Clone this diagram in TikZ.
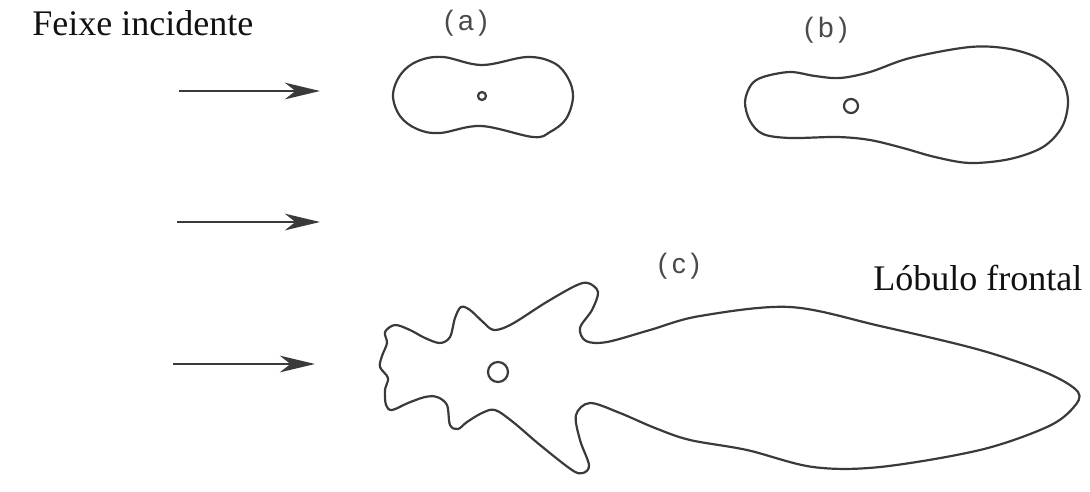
\documentclass[tikz,border=0pt]{standalone}
\usepackage{fontspec}
\setmainfont{Liberation Serif}
\newfontfamily\lblfont{Liberation Sans}
\usepackage{xcolor}
\usetikzlibrary{positioning,calc,arrows.meta}
\definecolor{LInk}{HTML}{111111}
\definecolor{LLine}{HTML}{3A3A3A}
\definecolor{LTag}{HTML}{4A4A4A}

\begin{document}
\begin{tikzpicture}[x=0.02cm, y=-0.02cm,
  every node/.style={inner sep=0pt},
  caption/.style={anchor=base west, font=\fontsize{20.5}{24}\selectfont, text=LInk},
  tag/.style={font=\lblfont\fontsize{16}{18}\selectfont, text=LTag},
  lobe/.style={draw=LLine, line width=1.25pt},
  beam/.style={draw=LLine, line width=1.1pt, -{Stealth[length=20pt,width=9.5pt,inset=6pt]}}]
\useasboundingbox (0,0) rectangle (1090,491);
% texts
\node[caption] (feixe) at (32,35) {Feixe incidente};
\node[caption] (frontal) at (873,290) {Lóbulo frontal};
\node[tag] (taga) at (466,23) {(\,a\,)};
\node[tag] (tagb) at (826,30) {(\,b\,)};
\node[tag] (tagc) at (679,266) {(\,c\,)};
% incident beams
\foreach \i/\xa/\xb/\y in {1/179/320/91, 2/177/320/222, 3/173/315/364}{
  \coordinate (tail\i) at (\xa,\y);
  \coordinate (tip\i) at (\xb,\y);
  \draw[beam] (tail\i) -- (tip\i);
}
% (a) small particle
\draw[lobe] plot[smooth cycle, tension=0.6] coordinates {
  (393,95) (401,74) (418,61) (443,57) (482,65) (527,57) (554,63)
  (568,78) (573,97) (566,119) (550,132) (533,137) (481,126) (440,133)
  (417,129) (400,116)};
\draw[lobe] (482,96) circle (4);
% (b) medium particle
\draw[lobe] plot[smooth cycle, tension=0.55] coordinates {
  (745,102) (751,85) (763,77) (790,72) (815,76) (840,78) (870,72) (910,58)
  (970,47) (1010,49) (1042,60) (1062,80) (1068,102) (1062,127) (1043,147)
  (1010,159) (970,163) (935,157) (903,148) (870,140) (837,137) (790,138)
  (763,134) (750,121)};
\draw[lobe] (851,106) circle (7);
% (c) large particle
\draw[lobe] plot[smooth cycle, tension=0.55] coordinates {
  (385,332) (395,325) (410,330) (425,338) (440,343) (450,337) (455,318)
  (461,307) (470,310) (483,322) (494,330) (512,324) (545,303) (575,286)
  (588,283) (598,292) (592,310) (580,328) (586,341) (607,342) (650,330)
  (700,316) (790,307) (880,326) (980,350) (1047,373) (1078,392) (1073,408)
  (1047,427) (980,450) (880,467) (813,467) (747,450) (690,440) (655,428)
  (620,413) (590,403) (576,415) (580,440) (589,465) (583,473) (572,470)
  (540,445) (513,422) (495,410) (482,413) (467,422) (458,429) (450,425)
  (447,405) (437,397) (425,397) (408,403) (392,410) (386,405) (385,390)
  (388,378) (380,367) (382,356) (387,343)};
\draw[lobe] (498,372) circle (10);
\end{tikzpicture}
\end{document}
